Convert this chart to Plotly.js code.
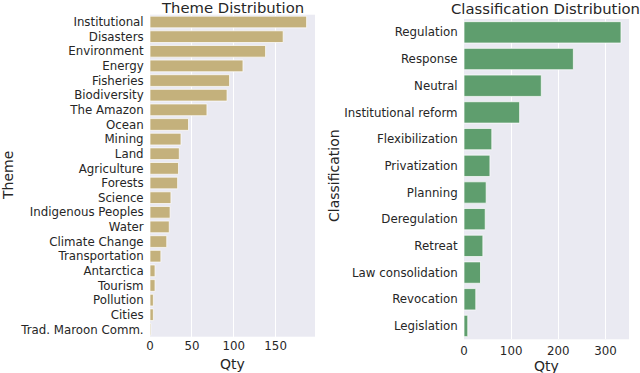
<!DOCTYPE html>
<html>
<head>
<meta charset="utf-8">
<script src="https://cdn.plot.ly/plotly-3.0.1.min.js"></script>
<style>html,body{margin:0;padding:0;background:#fff;}#chart{width:640px;height:373px;}</style>
</head>
<body>
<div id="chart"></div>
<script>
const themeCategories = ["Institutional","Disasters","Environment","Energy","Fisheries","Biodiversity","The Amazon","Ocean","Mining","Land","Agriculture","Forests","Science","Indigenous Peoples","Water","Climate Change","Transportation","Antarctica","Tourism","Pollution","Cities","Trad. Maroon Comm."];
const themeQty = [187,159,138,111,95,92,68,46,37,35,34,33,25,24,23,20,13,6,6,4,4,1];

const classCategories = ["Regulation","Response","Neutral","Institutional reform","Flexibilization","Privatization","Planning","Deregulation","Retreat","Law consolidation","Revocation","Legislation"];
const classQty = [333,232,164,118,59,55,47,45,40,35,25,8];

const themeTicks = [0,50,100,150];
const classTicks = [0,100,200,300];

const W = 640, H = 373;
const px = v => v / W;
const py = v => 1 - v / H;
const FONT = "DejaVu Sans";
const TXT = "#262626";

const data = [
  {type:"bar", orientation:"h", x: themeQty, y: themeCategories, xaxis:"x", yaxis:"y",
   width:0.8, marker:{color:"#c4b17c", line:{color:"rgba(255,255,255,0.9)", width:0.8}}, hoverinfo:"x+y"},
  {type:"bar", orientation:"h", x: classQty, y: classCategories, xaxis:"x2", yaxis:"y2",
   width:0.8, marker:{color:"#5f9e6e", line:{color:"rgba(255,255,255,0.9)", width:0.8}}, hoverinfo:"x+y"}
];

const axX = (dom, rng, ticks, tl) => ({
  domain: dom, range: rng, tickvals: ticks, ticktext: ticks.map(String),
  showgrid:true, gridcolor:"#ffffff", gridwidth:1, zeroline:false, showline:false,
  ticks: tl > 0 ? "outside" : "", ticklen:tl, tickcolor:"rgba(0,0,0,0)",
  tickfont:{family:FONT, size:11.8, color:TXT}, fixedrange:true
});
const axY = (dom, n, anchor) => ({
  domain: dom, type:"category", range:[n-0.5, -0.5], anchor: anchor,
  showgrid:false, zeroline:false, showline:false,
  ticks:"outside", ticklen:3, tickcolor:"rgba(0,0,0,0)",
  tickfont:{family:FONT, size:11.8, color:TXT}, fixedrange:true
});

const layout = {
  width: W, height: H,
  margin:{l:0,r:0,t:0,b:0},
  paper_bgcolor:"#ffffff",
  plot_bgcolor:"#eaeaf2",
  showlegend:false,
  bargap:0.2,
  xaxis: Object.assign(axX([px(150), px(315)], [0, 197], themeTicks, 0), {anchor:"y"}),
  yaxis: axY([py(336.7), py(14.7)], themeCategories.length, "x"),
  xaxis2: Object.assign(axX([px(464), px(629)], [0, 350], classTicks, 1), {anchor:"y2"}),
  yaxis2: axY([py(339.3), py(19)], classCategories.length, "x2"),
  annotations: [
    {text:"Theme Distribution", xref:"paper", yref:"paper", x:px(232.5), y:py(7), xanchor:"center", yanchor:"middle", showarrow:false, font:{family:FONT, size:14.8, color:TXT}},
    {text:"Classification Distribution", xref:"paper", yref:"paper", x:px(545), y:py(8.5), xanchor:"center", yanchor:"middle", showarrow:false, font:{family:FONT, size:14.8, color:TXT}},
    {text:"Qty", xref:"paper", yref:"paper", x:px(232.5), y:py(364), xanchor:"center", yanchor:"middle", showarrow:false, font:{family:FONT, size:14, color:TXT}},
    {text:"Qty", xref:"paper", yref:"paper", x:px(546.5), y:py(366), xanchor:"center", yanchor:"middle", showarrow:false, font:{family:FONT, size:14, color:TXT}},
    {text:"Theme", xref:"paper", yref:"paper", x:px(8), y:py(176), xanchor:"center", yanchor:"middle", textangle:-90, showarrow:false, font:{family:FONT, size:14, color:TXT}},
    {text:"Classification", xref:"paper", yref:"paper", x:px(334), y:py(176), xanchor:"center", yanchor:"middle", textangle:-90, showarrow:false, font:{family:FONT, size:14, color:TXT}}
  ]
};

Plotly.newPlot("chart", data, layout, {displayModeBar:false, staticPlot:true});
</script>
</body>
</html>
